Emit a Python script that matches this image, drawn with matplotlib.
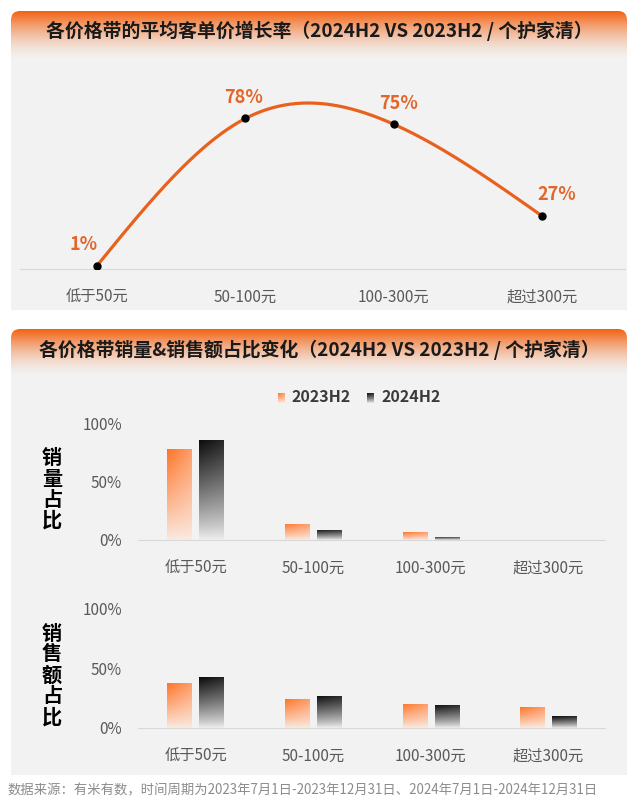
"""
Price-band AOV growth + volume / GMV share chart (personal & home care).
Rebuilt in matplotlib, saved to out.png.
"""
import numpy as np
import matplotlib
matplotlib.use("Agg")
import matplotlib.pyplot as plt
import matplotlib.colors as mcolors
from matplotlib.patches import Rectangle, FancyBboxPatch

plt.rcParams["font.family"] = ["Noto Sans CJK SC", "DejaVu Sans"]

# ---------------------------------------------------------------------------
# data
# ---------------------------------------------------------------------------
price_bands = ["低于50元", "50-100元", "100-300元", "超过300元"]
aov_growth = [1, 78, 75, 27]               # %, 2024H2 vs 2023H2
periods = ["2023H2", "2024H2"]
vol_share_2023 = [78, 14, 6.5, 0.3]        # % of units
vol_share_2024 = [86.5, 9, 3, 0.2]
gmv_share_2023 = [37.5, 24, 20.5, 17.5]    # % of sales value
gmv_share_2024 = [42.5, 27, 19.5, 10]

title_top = "各价格带的平均客单价增长率（2024H2 VS 2023H2 / 个护家清）"
title_bottom = "各价格带销量&销售额占比变化（2024H2 VS 2023H2 / 个护家清）"
source_note = "数据来源：有米有数，时间周期为2023年7月1日-2023年12月31日、2024年7月1日-2024年12月31日"

# styling
W, H = 641, 802
LINE_C = "#E8621E"
LABEL_C = "#E2662A"
PANEL_C = "#F2F2F2"
TXT = "#595959"
AXIS_C = "#D9D9D9"
BAR_W = 0.21
BAR_OFF = 0.136
label_dx = [-14, -2, 5, 15]  # px shift of the growth labels

fig = plt.figure(figsize=(W / 100, H / 100), dpi=100)
fig.patch.set_facecolor("white")
bg = fig.add_axes([0, 0, 1, 1], zorder=0)
bg.axis("off")


def px_axes(x0, y0, x1, y1):
    ax = fig.add_axes([x0 / W, 1 - y1 / H, (x1 - x0) / W, (y1 - y0) / H], zorder=2)
    ax.set_facecolor("none")
    return ax


def gradient(top, bot, n=120, nx=30, vpow=1.0, hfade=0.0):
    top = np.array(mcolors.to_rgb(top)); bot = np.array(mcolors.to_rgb(bot))
    t = np.linspace(0, 1, n)[:, None, None]
    s = np.linspace(0, 1, nx)[None, :, None]
    w = (1 - t) ** vpow * (1 - hfade * s)
    return np.clip(w * top + (1 - w) * bot, 0, 1)


ORANGE_GRAD = gradient("#FF7428", "#FAEBE2", vpow=0.9, hfade=0.35)
BLACK_GRAD = gradient("#0A0A0A", "#F0F0F0", vpow=0.85, hfade=0.12)


def header(y0, y1, panel_bottom, title, ty):
    bg.add_patch(Rectangle((11, y0 + 20), 616, panel_bottom - (y0 + 20),
                           color=PANEL_C, lw=0, zorder=0))
    img = gradient("#F26212", "#F3F0EE", n=100, nx=2, vpow=1.5)
    im = bg.imshow(img, extent=(11, 627, y1, y0), aspect="auto",
                   interpolation="bilinear", zorder=1)
    clip = FancyBboxPatch((11, y0), 616, y1 - y0 + 12,
                          boxstyle="round,pad=0,rounding_size=9",
                          fc="none", ec="none", transform=bg.transData)
    bg.add_patch(clip)
    im.set_clip_path(clip)
    bg.text(319, ty, title, ha="center", va="center", fontsize=13.6,
            fontweight="bold", color="#1A1A1A", zorder=3)


header(11, 58, 310, title_top, 31)
header(329, 374, 775, title_bottom, 350)

# ---------------------------------------------------------------------------
# 1. AOV growth curve
# ---------------------------------------------------------------------------
def natural_spline(x, y, xs):
    x = np.asarray(x, float); y = np.asarray(y, float)
    n = len(x); h = np.diff(x)
    A = np.zeros((n, n)); r = np.zeros(n)
    A[0, 0] = A[-1, -1] = 1
    for i in range(1, n - 1):
        A[i, i - 1] = h[i - 1]; A[i, i] = 2 * (h[i - 1] + h[i]); A[i, i + 1] = h[i]
        r[i] = 3 * ((y[i + 1] - y[i]) / h[i] - (y[i] - y[i - 1]) / h[i - 1])
    c = np.linalg.solve(A, r)
    b = np.diff(y) / h - h * (2 * c[:-1] + c[1:]) / 3
    d = np.diff(c) / (3 * h)
    k = np.clip(np.searchsorted(x, xs) - 1, 0, n - 2)
    dx = xs - x[k]
    return y[k] + b[k] * dx + c[k] * dx ** 2 + d[k] * dx ** 3


ax1 = px_axes(20, 65, 625, 269)
xi = np.arange(len(price_bands))
xs = np.linspace(0, len(price_bands) - 1, 300)
ax1.plot(xs, natural_spline(xi, aov_growth, xs), color=LINE_C, lw=2.3,
         solid_capstyle="round", zorder=2)
ax1.plot(xi, aov_growth, "o", color="black", ms=5, zorder=3)
for x, v, dx in zip(xi, aov_growth, label_dx):
    ax1.annotate(f"{v}%", (x, v), xytext=(dx / 1.389, 21 / 1.389),
                 textcoords="offset points", ha="center", va="center",
                 fontsize=13, color=LABEL_C, fontweight="bold")
ax1.set_xlim(-0.52, 3.56)
ax1.set_ylim(-0.8, 106)
ax1.set_xticks(xi, price_bands)
ax1.set_yticks([])
for sp in ["top", "left", "right"]:
    ax1.spines[sp].set_visible(False)
ax1.spines["bottom"].set_color(AXIS_C)
ax1.spines["bottom"].set_linewidth(0.8)
ax1.tick_params(axis="x", length=0, pad=14, labelsize=11, labelcolor=TXT)

# ---------------------------------------------------------------------------
# 2. volume / GMV share bars
# ---------------------------------------------------------------------------
def grad_bars(ax, xs, vals, grad):
    bars = ax.bar(xs, vals, width=BAR_W, color="none", edgecolor="none")
    for b in bars:
        x0, w, h = b.get_x(), b.get_width(), b.get_height()
        if h <= 0:
            continue
        im = ax.imshow(grad, extent=(x0, x0 + w, 0, h), aspect="auto",
                       origin="upper", interpolation="bilinear", zorder=2)
        im.set_clip_path(b)


def share_chart(box, v23, v24, ytop):
    ax = px_axes(*box)
    grad_bars(ax, xi - BAR_OFF, v23, ORANGE_GRAD)
    grad_bars(ax, xi + BAR_OFF, v24, BLACK_GRAD)
    ax.set_xlim(-0.49, 3.48)
    ax.set_ylim(0, ytop)
    ax.set_xticks(xi, price_bands)
    ax.set_yticks([0, 50, 100], ["0%", "50%", "100%"])
    for sp in ["top", "left", "right"]:
        ax.spines[sp].set_visible(False)
    ax.spines["bottom"].set_color(AXIS_C)
    ax.spines["bottom"].set_linewidth(0.8)
    ax.tick_params(axis="x", length=0, pad=14, labelsize=11, labelcolor=TXT)
    ax.tick_params(axis="y", length=0, pad=11.5, labelsize=11, labelcolor=TXT)
    return ax


share_chart((138, 410, 605, 540), vol_share_2023, vol_share_2024, 112)
share_chart((138, 598, 605, 728), gmv_share_2023, gmv_share_2024, 109)

bg.text(52, 489, "销\n量\n占\n比", ha="center", va="center", fontsize=14.5,
        fontweight="bold", color="black", linespacing=1.0, zorder=3)
bg.text(52, 675, "销\n售\n额\n占\n比", ha="center", va="center", fontsize=14.5,
        fontweight="bold", color="black", linespacing=1.0, zorder=3)

# legend
for (x0, grad), name in zip([(278, ORANGE_GRAD), (367, BLACK_GRAD)], periods):
    bg.imshow(grad, extent=(x0, x0 + 7, 403, 393), aspect="auto",
              interpolation="bilinear", zorder=3)
    bg.text(x0 + 14, 397.5, name, ha="left", va="center", fontsize=11.5,
            color="#3A3A3A", fontweight="bold", zorder=3)

bg.text(8, 790, source_note, ha="left", va="center", fontsize=9.6, color="#8C8C8C")

bg.set_xlim(0, W)
bg.set_ylim(H, 0)

fig.savefig("out.png", dpi=100)
